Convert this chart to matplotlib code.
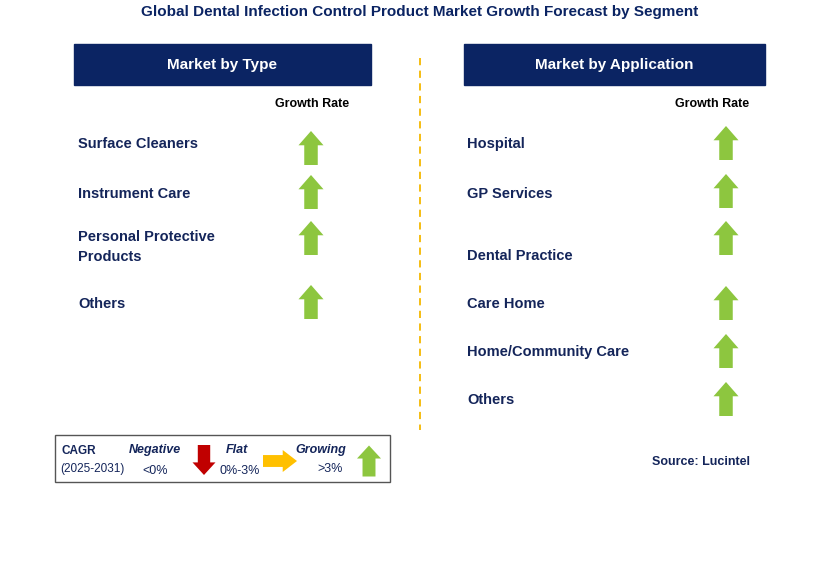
import matplotlib
matplotlib.use("Agg")
import matplotlib.pyplot as plt
from matplotlib.patches import Rectangle, Polygon
plt.rcParams["font.family"] = "Liberation Sans"

title = "Global Dental Infection Control Product Market Growth Forecast by Segment"
type_labels = ["Surface Cleaners", "Instrument Care", "Personal Protective\nProducts", "Others"]
type_growth = ["up", "up", "up", "up"]
app_labels = ["Hospital", "GP Services", "Dental Practice", "Care Home", "Home/Community Care", "Others"]
app_growth = ["up", "up", "up", "up", "up", "up"]

NAVY = "#0B2463"
GREEN = "#8DC63F"
TEXT = "#14255A"

fig = plt.figure(figsize=(8.29, 5.70), dpi=100)
ax = fig.add_axes([0, 0, 1, 1])
ax.set_xlim(0, 829); ax.set_ylim(570, 0); ax.axis("off")

def arrow(x, yc, direction, color, w=25, h=34):
    hw, sw, hl = w/2, w*0.27, h*0.42
    if direction == "up":
        t, b = yc - h/2, yc + h/2
        pts = [(x, t), (x+hw, t+hl), (x+sw, t+hl), (x+sw, b), (x-sw, b), (x-sw, t+hl), (x-hw, t+hl)]
    elif direction == "down":
        t, b = yc - h/2, yc + h/2
        pts = [(x, b), (x+hw, b-hl), (x+sw, b-hl), (x+sw, t), (x-sw, t), (x-sw, b-hl), (x-hw, b-hl)]
    else:
        l, r = x - h/2, x + h/2
        pts = [(r, yc), (r-hl, yc-hw), (r-hl, yc-sw), (l, yc-sw), (l, yc+sw), (r-hl, yc+sw), (r-hl, yc+hw)]
    ax.add_patch(Polygon(pts, closed=True, color=color, lw=0))

ax.text(420, 12, title, ha="center", va="center", fontsize=11, fontweight="bold", color=NAVY)

for (x0, x1, lab) in [(74, 371, "Market by Type"), (464, 765, "Market by Application")]:
    ax.add_patch(Rectangle((x0, 44), x1-x0, 41, color=NAVY))
    ax.text((x0+x1)/2, 65.5, lab, ha="center", va="center", fontsize=11, fontweight="bold", color="white")

ax.text(312, 104, "Growth Rate", ha="center", va="center", fontsize=9, fontweight="bold", color="black")
ax.text(712, 104, "Growth Rate", ha="center", va="center", fontsize=9, fontweight="bold", color="black")

type_y = [144, 194, 247, 304]
type_ay = [148, 192, 238, 302]
for lab, g, y, ay in zip(type_labels, type_growth, type_y, type_ay):
    ax.text(78, y, lab, ha="left", va="center", fontsize=10.5, fontweight="bold", color=TEXT, linespacing=1.5)
    arrow(311, ay, g, GREEN)

app_y = [144, 194, 256, 304, 352, 400]
app_ay = [143, 191, 238, 303, 351, 399]
for lab, g, y, ay in zip(app_labels, app_growth, app_y, app_ay):
    ax.text(467, y, lab, ha="left", va="center", fontsize=10.5, fontweight="bold", color=TEXT)
    arrow(726, ay, g, GREEN)

ax.plot([420, 420], [58, 430], ls=(0, (4, 3)), color="#F5B800", lw=1.3)

ax.add_patch(Rectangle((55, 435), 335, 47, fill=False, ec="#555555", lw=1))
ax.text(62, 451, "CAGR", fontsize=8.5, fontweight="bold", color=TEXT, va="center")
ax.text(60, 469, "(2025-2031)", fontsize=8.5, color=TEXT, va="center")
ax.text(155, 450, "Negative", fontsize=9, fontweight="bold", style="italic", color=TEXT, ha="center", va="center")
ax.text(155, 471, "<0%", fontsize=9, color=TEXT, ha="center", va="center")
arrow(204, 460, "down", "#C00000", w=23, h=30)
ax.text(237, 450, "Flat", fontsize=9, fontweight="bold", style="italic", color=TEXT, ha="center", va="center")
ax.text(240, 471, "0%-3%", fontsize=9, color=TEXT, ha="center", va="center")
arrow(280, 461, "right", "#FFC000", w=22, h=34)
ax.text(321, 450, "Growing", fontsize=9, fontweight="bold", style="italic", color=TEXT, ha="center", va="center")
ax.text(330, 469, ">3%", fontsize=9, color=TEXT, ha="center", va="center")
arrow(369, 461, "up", GREEN, w=24, h=31)

ax.text(750, 462, "Source: Lucintel", fontsize=9, fontweight="bold", color=TEXT, ha="right", va="center")

fig.savefig("out.png", dpi=100)
